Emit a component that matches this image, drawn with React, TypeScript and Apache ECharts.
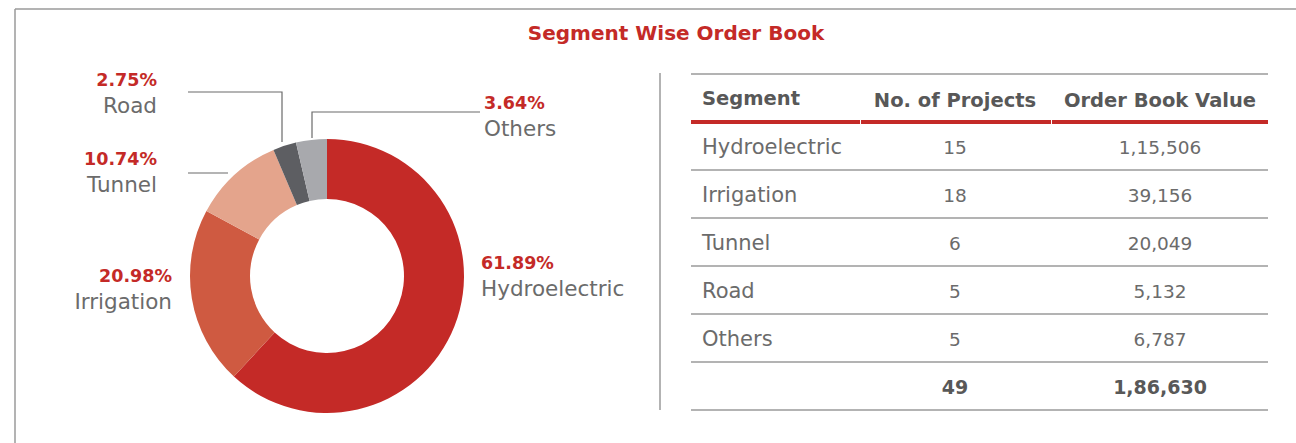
import React, { useEffect, useRef } from "react";
import * as echarts from "echarts";

const segments = ["Hydroelectric", "Irrigation", "Tunnel", "Road", "Others"];
const projects = [15, 18, 6, 5, 5];
const orderValues = [115506, 39156, 20049, 5132, 6787];
const totalProjects = 49;
const totalValue = 186630;
const headers = ["Segment", "No. of Projects", "Order Book Value"];
const colors = ["#C42A27", "#CF5A41", "#E4A48C", "#5D5E62", "#A8A9AD"];

const FONT = "DejaVu Sans";
const RED = "#C42A27";
const GRAY_TXT = "#6b6b6b";

const fmt = (v: number) => v.toLocaleString("en-IN");

// label placement (pixels) and leader lines
const labelPos: Record<string, any> = {
  Hydroelectric: { x: 481, y: 276, align: "left" },
  Irrigation: { x: 172, y: 289, align: "right" },
  Tunnel: { x: 157, y: 172, align: "right", line: [[228, 173], [208, 173], [188, 173]] },
  Road: { x: 157, y: 93, align: "right", line: [[282, 142], [282, 92], [188, 92]] },
  Others: { x: 484, y: 116, align: "left", line: [[312, 138], [312, 112], [480, 112]] },
};

export default function App() {
  const ref = useRef<HTMLDivElement>(null);
  useEffect(() => {
    document.body.style.margin = "0";
    const chart = echarts.init(ref.current!, null, { renderer: "svg" });

    const pieData = segments.map((name, i) => {
      const pct = ((orderValues[i] / totalValue) * 100).toFixed(2);
      const lp = labelPos[name];
      return {
        name,
        value: orderValues[i],
        itemStyle: { color: colors[i] },
        label: {
          formatter: `{p|${pct}%}\n{n|${name}}`,
          align: lp.align,
          rich: {
            p: { fontFamily: FONT, fontWeight: "bold", fontSize: 17.5, color: RED, align: lp.align, lineHeight: 25 },
            n: { fontFamily: FONT, fontSize: 21.5, color: GRAY_TXT, align: lp.align, lineHeight: 26 },
          },
        },
        labelLine: { show: !!lp.line },
      };
    });

    const graphics: any[] = [];
    // outer frame
    graphics.push({ type: "line", shape: { x1: 15, y1: 9, x2: 1296, y2: 9 }, style: { stroke: "#9a9a9a", lineWidth: 1.5 } });
    graphics.push({ type: "line", shape: { x1: 15, y1: 9, x2: 15, y2: 443 }, style: { stroke: "#9a9a9a", lineWidth: 1.5 } });
    // divider
    graphics.push({ type: "line", shape: { x1: 660, y1: 73, x2: 660, y2: 410 }, style: { stroke: "#9a9a9a", lineWidth: 1.5 } });

    // table
    const cols = [691, 860, 1051, 1268];
    const textX = [702, 955, 1160];
    const aligns = ["left", "center", "center"];
    graphics.push({ type: "line", shape: { x1: cols[0], y1: 74, x2: cols[3], y2: 74 }, style: { stroke: "#9a9a9a", lineWidth: 1.5 } });
    headers.forEach((h, c) => {
      graphics.push({
        type: "text",
        x: textX[c],
        y: c === 0 ? 98 : 100,
        style: { text: h, fontFamily: FONT, fontWeight: "bold", fontSize: 19.5, fill: "#585858", align: aligns[c], verticalAlign: "middle" },
      });
      graphics.push({ type: "rect", shape: { x: cols[c] + (c ? 1 : 0), y: 120, width: cols[c + 1] - cols[c] - (c ? 1 : 0), height: 4 }, style: { fill: RED } });
    });
    const rowTop = 122;
    const rowH = 48;
    const rows = segments.map((s, i) => [s, String(projects[i]), fmt(orderValues[i])]);
    rows.push(["", String(totalProjects), fmt(totalValue)]);
    rows.forEach((r, i) => {
      const cy = rowTop + rowH * i + rowH / 2;
      const bold = i === rows.length - 1;
      r.forEach((t, c) => {
        if (!t) return;
        const size = c === 0 ? 21 : bold ? 19 : 18.5;
        graphics.push({
          type: "text",
          x: textX[c],
          y: cy + 1,
          style: { text: t, fontFamily: FONT, fontWeight: bold ? "bold" : "normal", fontSize: size, fill: bold ? "#585858" : GRAY_TXT, align: aligns[c], verticalAlign: "middle" },
        });
      });
      const ly = rowTop + rowH * (i + 1);
      graphics.push({ type: "line", shape: { x1: cols[0], y1: ly, x2: cols[3], y2: ly }, style: { stroke: "#9a9a9a", lineWidth: 1.5 } });
    });

    chart.setOption({
      animation: false,
      title: {
        text: "Segment Wise Order Book",
        left: 671,
        top: 18,
        textAlign: "center",
        textStyle: { fontFamily: FONT, fontWeight: "bold", fontSize: 20, color: RED },
      },
      graphic: graphics,
      series: [
        {
          type: "pie",
          center: [327, 276],
          radius: [77, 137],
          startAngle: 90,
          clockwise: true,
          data: pieData,
          label: { show: true },
          labelLine: { show: true, lineStyle: { color: "#6a6a6a", width: 1.2 } },
          labelLayout: (params: any) => {
            const lp = labelPos[segments[params.dataIndex]];
            const out: any = { x: lp.x, y: lp.y, align: lp.align, verticalAlign: "middle" };
            if (lp.line) out.labelLinePoints = lp.line;
            return out;
          },
          emphasis: { disabled: true },
        },
      ],
    });
    return () => chart.dispose();
  }, []);
  return <div ref={ref} style={{ width: 1296, height: 443 }} />;
}
